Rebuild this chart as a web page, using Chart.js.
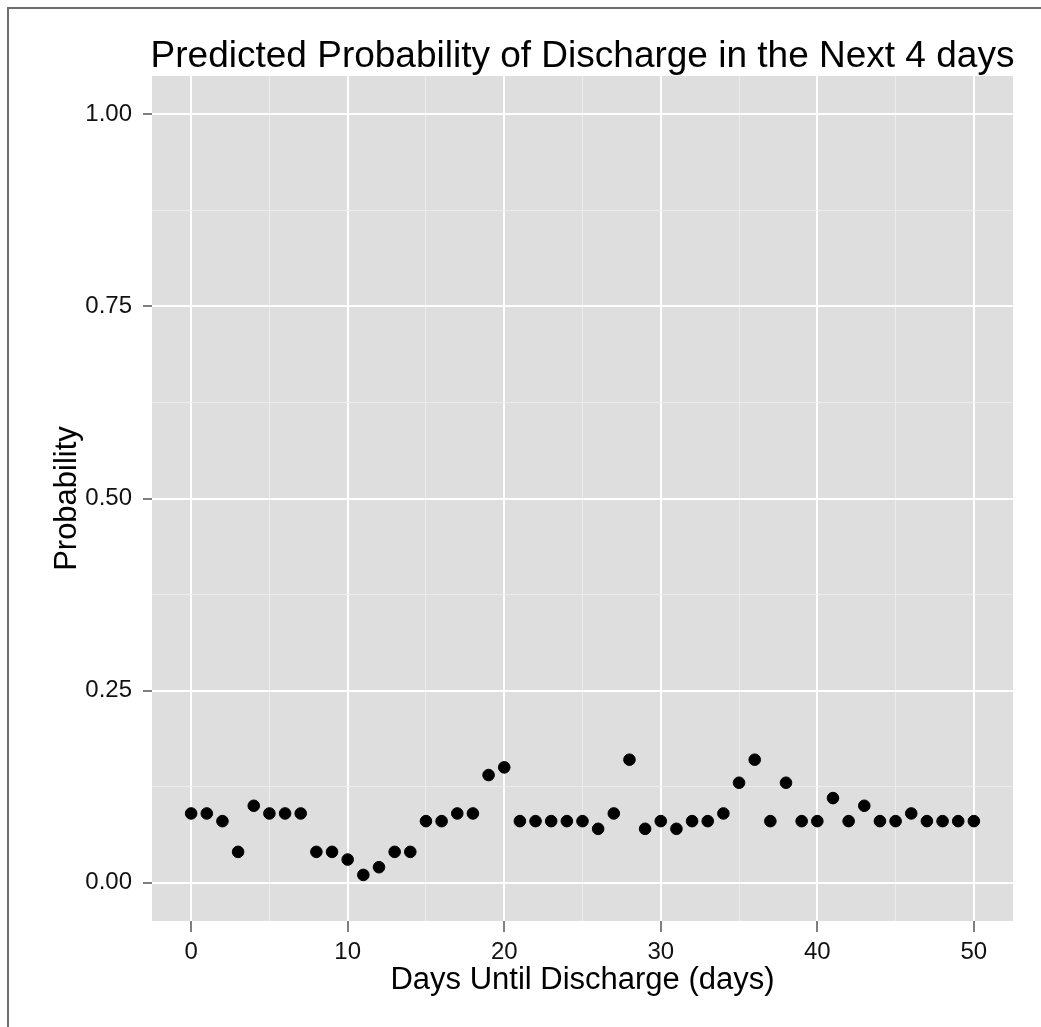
<!DOCTYPE html>
<html>
<head>
<meta charset="utf-8">
<script src="https://cdn.jsdelivr.net/npm/chart.js@4/dist/chart.umd.min.js"></script>
<style>
  html, body { margin: 0; padding: 0; background: #fff; }
</style>
</head>
<body>
<canvas id="chart" width="1041" height="1027"></canvas>
<script>
// data
const chartTitle = "Predicted Probability of Discharge in the Next 4 days";
const days = [0, 1, 2, 3, 4, 5, 6, 7, 8, 9, 10, 11, 12, 13, 14, 15, 16, 17, 18, 19, 20,
  21, 22, 23, 24, 25, 26, 27, 28, 29, 30, 31, 32, 33, 34, 35, 36, 37, 38, 39, 40,
  41, 42, 43, 44, 45, 46, 47, 48, 49, 50];
const probability = [0.09, 0.09, 0.08, 0.04, 0.10, 0.09, 0.09, 0.09, 0.04, 0.04, 0.03,
  0.01, 0.02, 0.04, 0.04, 0.08, 0.08, 0.09, 0.09, 0.14, 0.15,
  0.08, 0.08, 0.08, 0.08, 0.08, 0.07, 0.09, 0.16, 0.07, 0.08,
  0.07, 0.08, 0.08, 0.09, 0.13, 0.16, 0.08, 0.13, 0.08, 0.08,
  0.11, 0.08, 0.10, 0.08, 0.08, 0.09, 0.08, 0.08, 0.08, 0.08];
const xTicks = [0, 5, 10, 15, 20, 25, 30, 35, 40, 45, 50];
const xLabels = [0, 10, 20, 30, 40, 50];
const yTicks = [0, 0.125, 0.25, 0.375, 0.5, 0.625, 0.75, 0.875, 1];
const yLabels = [0, 0.25, 0.5, 0.75, 1];

const fontFam = "'Liberation Sans', Arial, Helvetica, sans-serif";
const isMajorX = v => xLabels.includes(v);
const isMajorY = v => yLabels.some(l => Math.abs(l - v) < 1e-9);

// grey panel behind the points
const panelBg = {
  id: 'panelBg',
  beforeDraw(chart) {
    const {ctx, chartArea: a} = chart;
    ctx.save();
    ctx.fillStyle = '#dedede';
    ctx.fillRect(a.left, a.top, a.right - a.left, a.bottom - a.top);
    ctx.restore();
  }
};

// page frame + title centred over the panel
const frameTitle = {
  id: 'frameTitle',
  afterDraw(chart) {
    const {ctx, chartArea: a} = chart;
    ctx.save();
    ctx.strokeStyle = '#6e6e6e';
    ctx.lineWidth = 2;
    ctx.beginPath();
    ctx.moveTo(8, 1027);
    ctx.lineTo(8, 8);
    ctx.lineTo(1041, 8);
    ctx.stroke();
    ctx.fillStyle = '#000';
    ctx.font = '37px ' + fontFam;
    ctx.textAlign = 'center';
    ctx.textBaseline = 'alphabetic';
    ctx.fillText(chartTitle, (a.left + a.right) / 2, 67);
    ctx.restore();
  }
};

const ctx = document.getElementById('chart').getContext('2d');
new Chart(ctx, {
  type: 'scatter',
  data: {
    datasets: [{
      label: 'Probability',
      data: days.map((d, i) => ({x: d, y: probability[i]})),
      backgroundColor: '#000',
      borderColor: '#000',
      pointRadius: 5.8,
      pointHoverRadius: 5.8
    }]
  },
  options: {
    responsive: false,
    animation: false,
    layout: {
      padding: {top: 76, right: 28, left: 0, bottom: 0}
    },
    plugins: {
      legend: {display: false},
      tooltip: {enabled: false},
      title: {display: false}
    },
    scales: {
      x: {
        type: 'linear',
        min: -2.5,
        max: 52.5,
        afterBuildTicks: s => { s.ticks = xTicks.map(v => ({value: v})); },
        afterFit: s => { s.height = 106; },
        border: {display: false},
        grid: {
          color: c => isMajorX(c.tick.value) ? '#ffffff' : '#ececec',
          lineWidth: c => isMajorX(c.tick.value) ? 2 : 1,
          tickColor: c => isMajorX(c.tick.value) ? '#7f7f7f' : 'rgba(0,0,0,0)',
          tickWidth: 2,
          tickLength: 11
        },
        ticks: {
          autoSkip: false,
          maxRotation: 0,
          padding: 6,
          color: '#111',
          font: {family: fontFam, size: 24},
          callback: v => isMajorX(v) ? String(v) : ''
        },
        title: {
          display: true,
          text: 'Days Until Discharge (days)',
          color: '#000',
          font: {family: fontFam, size: 31},
          padding: {top: 0, bottom: 28}
        }
      },
      y: {
        type: 'linear',
        min: -0.05,
        max: 1.05,
        afterBuildTicks: s => { s.ticks = yTicks.map(v => ({value: v})); },
        afterFit: s => { s.width = 152; },
        border: {display: false},
        grid: {
          color: c => isMajorY(c.tick.value) ? '#ffffff' : '#ececec',
          lineWidth: c => isMajorY(c.tick.value) ? 2 : 1,
          tickColor: c => isMajorY(c.tick.value) ? '#7f7f7f' : 'rgba(0,0,0,0)',
          tickWidth: 2,
          tickLength: 9
        },
        ticks: {
          autoSkip: false,
          padding: 11,
          color: '#111',
          font: {family: fontFam, size: 24},
          callback: v => isMajorY(v) ? v.toFixed(2) : ''
        },
        title: {
          display: true,
          text: 'Probability',
          color: '#000',
          font: {family: fontFam, size: 31},
          padding: {top: 49, bottom: 0}
        }
      }
    }
  },
  plugins: [panelBg, frameTitle]
});
</script>
</body>
</html>
